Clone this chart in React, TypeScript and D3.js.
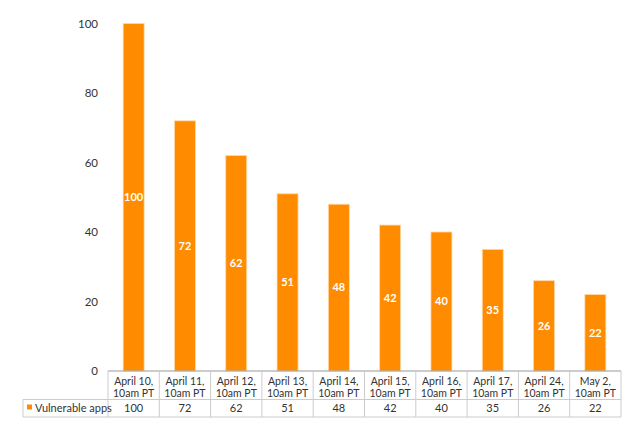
import React from "react";
import * as d3 from "d3";

const categories = [
  ["April 10,", "10am PT"],
  ["April 11,", "10am PT"],
  ["April 12,", "10am PT"],
  ["April 13,", "10am PT"],
  ["April 14,", "10am PT"],
  ["April 15,", "10am PT"],
  ["April 16,", "10am PT"],
  ["April 17,", "10am PT"],
  ["April 24,", "10am PT"],
  ["May 2,", "10am PT"],
];
const values = [100, 72, 62, 51, 48, 42, 40, 35, 26, 22];
const yTicks = [0, 20, 40, 60, 80, 100];
const seriesName = "Vulnerable apps";

const W = 640;
const H = 434;
const left = 108;
const right = 621;
const top = 23.5;
const base = 371;
const row1 = 399.5;
const row2 = 417;
const legendLeft = 23;
const orange = "#FF8C00";
const font = "Lato, 'Open Sans', 'DejaVu Sans', sans-serif";

export default function App() {
  const x = d3
    .scaleBand<number>()
    .domain(d3.range(values.length))
    .range([left, right])
    .paddingInner(0)
    .paddingOuter(0);
  const y = d3.scaleLinear().domain([0, 100]).range([base, top]);
  const bw = 21;

  return (
    <svg
      width={W}
      height={H}
      style={{ position: "absolute", left: 0, top: 0, background: "#fff" }}
      fontFamily={font}
    >
      {yTicks.map((t) => (
        <text
          key={t}
          x={98}
          y={y(t)}
          dy="0.35em"
          textAnchor="end"
          fontSize={11.5}
          fill="#333"
        >
          {t}
        </text>
      ))}
      {values.map((v, i) => {
        const cx = x(i)! + x.bandwidth() / 2;
        return (
          <g key={i}>
            <rect
              x={cx - bw / 2}
              y={y(v)}
              width={bw}
              height={base - y(v)}
              fill={orange}
              stroke="#ffd9a8"
              strokeWidth={0.8}
            />
            <text
              x={cx}
              y={(y(v) + base) / 2}
              dy="0.35em"
              textAnchor="middle"
              fontSize={11}
              fontWeight="bold"
              fill="#fff"
            >
              {v}
            </text>
          </g>
        );
      })}
      {/* table */}
      <line x1={left} x2={right} y1={base} y2={base} stroke="#999" strokeWidth={1.2} />
      <line x1={legendLeft} x2={right} y1={row1} y2={row1} stroke="#ccc" strokeWidth={1} />
      <line x1={legendLeft} x2={right} y1={row2} y2={row2} stroke="#ccc" strokeWidth={1} />
      <line x1={legendLeft} x2={legendLeft} y1={row1} y2={row2} stroke="#ccc" strokeWidth={1} />
      {d3.range(values.length + 1).map((i) => {
        const xx = i < values.length ? x(i)! : right;
        return (
          <line
            key={i}
            x1={xx}
            x2={xx}
            y1={base}
            y2={row2}
            stroke="#ccc"
            strokeWidth={1}
          />
        );
      })}
      {categories.map((c, i) => {
        const cx = x(i)! + x.bandwidth() / 2;
        return (
          <g key={i}>
            <text x={cx} y={384.5} textAnchor="middle" fontSize={10.5} fill="#333">
              {c[0]}
            </text>
            <text x={cx} y={396.5} textAnchor="middle" fontSize={10.5} fill="#333">
              {c[1]}
            </text>
          </g>
        );
      })}
      {values.map((v, i) => {
        const cx = x(i)! + x.bandwidth() / 2;
        return (
          <text
            key={i}
            x={cx}
            y={(row1 + row2) / 2}
            dy="0.35em"
            textAnchor="middle"
            fontSize={11}
            fill="#333"
          >
            {v}
          </text>
        );
      })}
      <rect x={27} y={404.5} width={5} height={5} fill={orange} />
      <text x={35} y={(row1 + row2) / 2} dy="0.35em" fontSize={11} fill="#333">
        {seriesName}
      </text>
    </svg>
  );
}
